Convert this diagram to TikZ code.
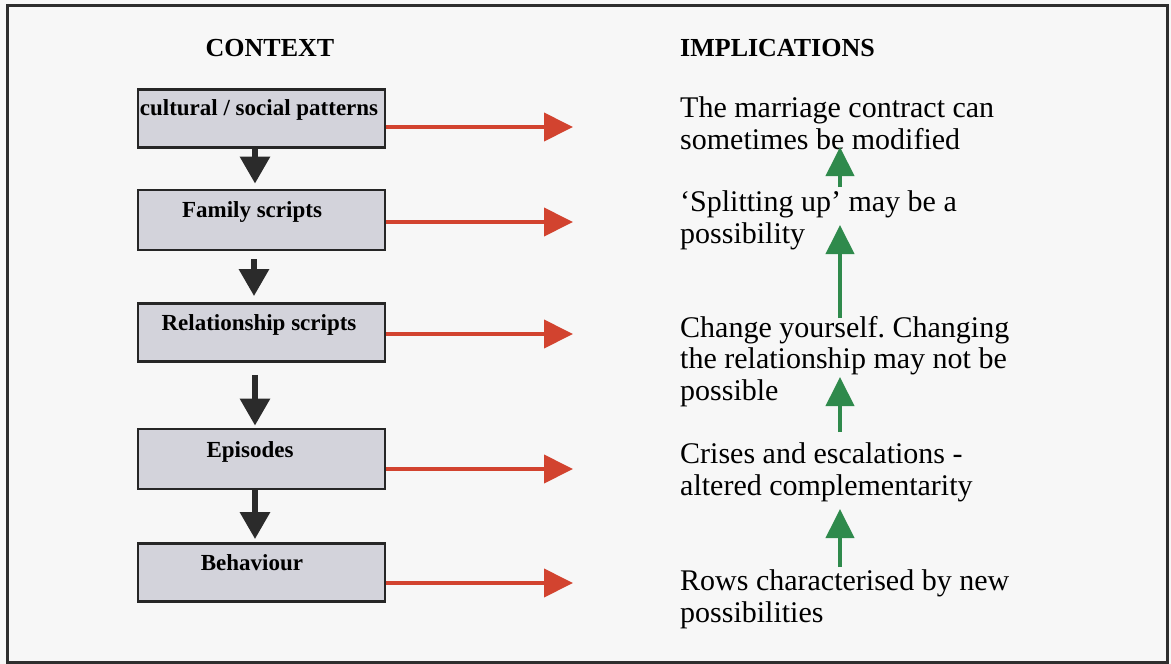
\documentclass[tikz,border=0pt]{standalone}
\usepackage{fontspec}
\setmainfont{Liberation Serif}
\usetikzlibrary{arrows.meta}
\frenchspacing
\definecolor{paper}{HTML}{F7F7F7}
\definecolor{frameline}{HTML}{2E2E2E}
\definecolor{boxfill}{HTML}{D3D3DB}
\definecolor{boxline}{HTML}{262626}
\definecolor{flowblack}{HTML}{2B2B2B}
\definecolor{flowred}{HTML}{D2432F}
\definecolor{flowgreen}{HTML}{2F8A4C}
\begin{document}
\begin{tikzpicture}[x=1pt,y=-1pt,
  ctxbox/.style={draw=boxline,line width=2.8pt,fill=boxfill,minimum width=247pt,
    minimum height=58pt,inner sep=0pt},
  boxtext/.style={anchor=base,inner sep=0pt,font=\fontsize{23}{27}\selectfont\bfseries},
  heading/.style={inner sep=0pt,font=\fontsize{26}{30}\selectfont\bfseries},
  impline/.style={anchor=base west,inner sep=0pt,font=\fontsize{30}{32}\selectfont},
  downarrow/.style={draw=flowblack,line width=6pt,
    -{Triangle[length=27pt,width=29pt]}},
  redarrow/.style={draw=flowred,line width=4pt,
    -{Triangle[length=29pt,width=28pt]}},
  greenarrow/.style={draw=flowgreen,line width=4pt,
    -{Triangle[length=29pt,width=28pt]}}]

% page and outer frame
\fill[paper] (0,0) rectangle (1171,664);
\draw[frameline,line width=3pt] (7,5) rectangle (1167,662);

% headings
\node[heading,anchor=base] (hctx) at (270,56) {CONTEXT};
\node[heading,anchor=base west] (himp) at (680,56) {IMPLICATIONS};

% context boxes
\node[ctxbox] (b1) at (261.5,118.5) {};
\node[ctxbox,minimum height=60pt] (b2) at (261.5,220) {};
\node[ctxbox] (b3) at (261.5,332.5) {};
\node[ctxbox,minimum height=60pt] (b4) at (261.5,459) {};
\node[ctxbox] (b5) at (261.5,572.5) {};

\node[boxtext] (t1) at (259,115) {cultural / social patterns};
\node[boxtext] (t2) at (252,217) {Family scripts};
\node[boxtext] (t3) at (259,330) {Relationship scripts};
\node[boxtext] (t4) at (250,457) {Episodes};
\node[boxtext] (t5) at (252,570) {Behaviour};

% downward flow between context boxes
\draw[downarrow,shorten >=5pt] ([xshift=-6.5pt]b1.south) -- ([xshift=-6.5pt]b2.north);
\draw[downarrow,shorten <=8pt,shorten >=6pt] ([xshift=-7.5pt]b2.south) -- ([xshift=-7.5pt]b3.north);
\draw[downarrow,shorten <=12pt,shorten >=2pt] ([xshift=-6.5pt]b3.south) -- ([xshift=-6.5pt]b4.north);
\draw[downarrow,shorten >=3pt] ([xshift=-6.5pt]b4.south) -- ([xshift=-6.5pt]b5.north);

% implications
\node[impline] (i1a) at (680,117) {The marriage contract can};
\node[impline] (i1b) at (680,149) {sometimes be modified};
\node[impline] (i2a) at (680,211) {‘Splitting up’ may be a};
\node[impline] (i2b) at (680,243) {possibility};
\node[impline] (i3a) at (680,337) {Change yourself. Changing};
\node[impline] (i3b) at (680,368.5) {the relationship may not be};
\node[impline] (i3c) at (680,400) {possible};
\node[impline] (i4a) at (680,463) {Crises and escalations -};
\node[impline] (i4b) at (680,495) {altered complementarity};
\node[impline] (i5a) at (680,590) {Rows characterised by new};
\node[impline] (i5b) at (680,622) {possibilities};

% ends of the red arrows
\coordinate (r1) at (573,127);
\coordinate (r2) at (573,222);
\coordinate (r3) at (573,334);
\coordinate (r4) at (573,469);
\coordinate (r5) at (573,583);
\draw[redarrow] (b1.east |- r1) -- (r1);
\draw[redarrow] (b2.east |- r2) -- (r2);
\draw[redarrow] (b3.east |- r3) -- (r3);
\draw[redarrow] (b4.east |- r4) -- (r4);
\draw[redarrow] (b5.east |- r5) -- (r5);

% upward flow between implications
\coordinate (g1s) at (840,187);   \coordinate (g1e) at (840,147);
\coordinate (g2s) at (840,318);   \coordinate (g2e) at (840,225);
\coordinate (g3s) at (840,432);   \coordinate (g3e) at (840,377);
\coordinate (g4s) at (840,567);   \coordinate (g4e) at (840,509);
\draw[greenarrow] (g1s) -- (g1e);
\draw[greenarrow] (g2s) -- (g2e);
\draw[greenarrow] (g3s) -- (g3e);
\draw[greenarrow] (g4s) -- (g4e);

\useasboundingbox (0,0) rectangle (1171,664);
\end{tikzpicture}
\end{document}
